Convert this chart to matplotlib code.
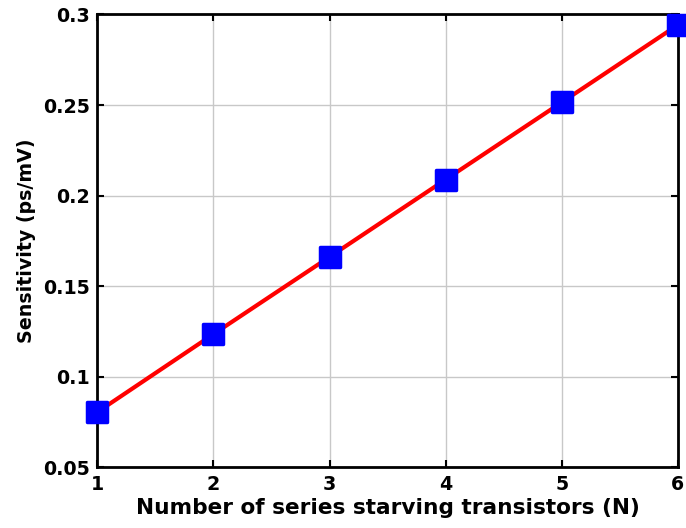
import matplotlib
matplotlib.use("Agg")
import matplotlib.pyplot as plt
from matplotlib.markers import MarkerStyle

# Sensitivity versus number of series starving transistors
n_transistors = [1, 2, 3, 4, 5, 6]
sensitivity = [0.0806, 0.1236, 0.1662, 0.2089, 0.2515, 0.2942]

x_ticks = [1, 2, 3, 4, 5, 6]
y_ticks = [0.05, 0.1, 0.15, 0.2, 0.25, 0.3]
y_tick_labels = ["0.05", "0.1", "0.15", "0.2", "0.25", "0.3"]

plt.rcParams["font.family"] = ["DejaVu Sans"]
plt.rcParams["font.weight"] = "bold"

fig = plt.figure(figsize=(6.86, 5.28), dpi=100)
ax = fig.add_axes([0.142, 0.1146, 0.846, 0.858])

ax.plot(n_transistors, sensitivity, color="red", linewidth=3.0,
        marker=MarkerStyle("s", joinstyle="round"), markersize=15,
        markerfacecolor="blue", markeredgecolor="blue", markeredgewidth=2.5,
        clip_on=False, zorder=3)

ax.set_xlim(1, 6)
ax.set_ylim(0.05, 0.3)
ax.set_xticks(x_ticks)
ax.set_yticks(y_ticks)
ax.set_yticklabels(y_tick_labels)

ax.grid(True, color="#c8c8c8", linewidth=1.0, linestyle="-")
ax.set_axisbelow(True)

for spine in ax.spines.values():
    spine.set_linewidth(2.0)
    spine.set_color("black")

ax.tick_params(axis="both", which="both", direction="in", length=5, width=1.5,
               labelsize=13.7, top=True, right=True, pad=5.5)
for lbl in ax.get_xticklabels() + ax.get_yticklabels():
    lbl.set_fontweight("bold")

ax.set_xlabel("Number of series starving transistors (N)", fontsize=15.6,
              fontweight="bold", labelpad=2.5)
ax.set_ylabel("Sensitivity (ps/mV)", fontsize=13.7, fontweight="bold", labelpad=5)

fig.savefig("out.png", dpi=100)
